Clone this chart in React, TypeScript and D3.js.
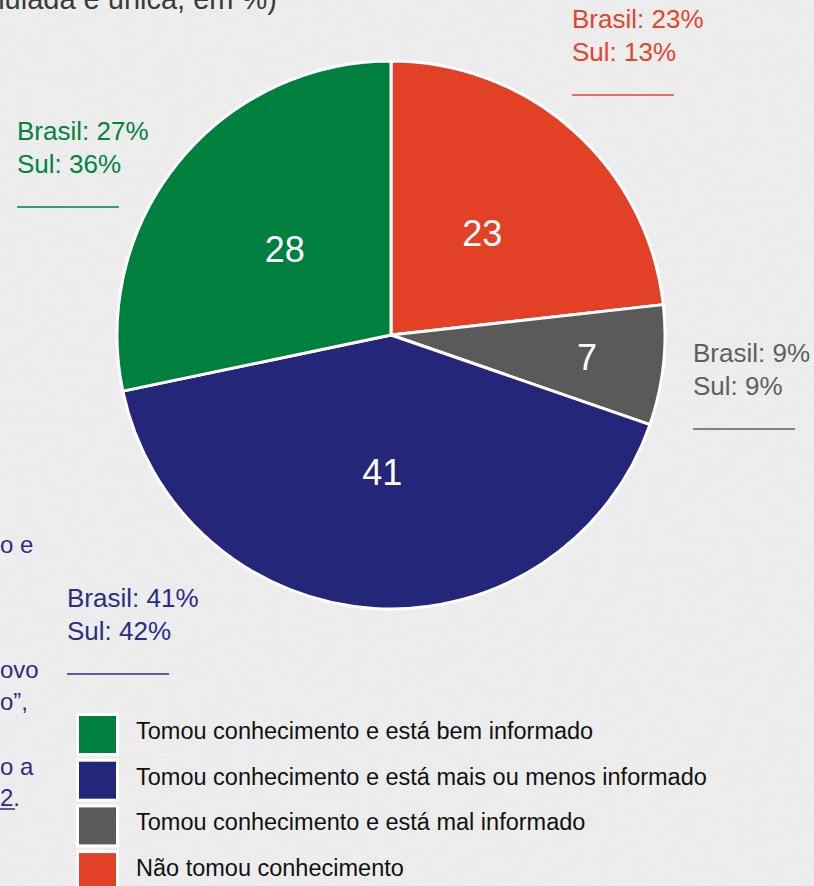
import React, { useEffect, useRef } from 'react';
import * as d3 from 'd3';

// legend order
const categories = [
    'Tomou conhecimento e está bem informado',
    'Tomou conhecimento e está mais ou menos informado',
    'Tomou conhecimento e está mal informado',
    'Não tomou conhecimento'
];
const values = [28, 41, 7, 23];
const brasilValues = [27, 41, 9, 23];
const sulValues = [36, 42, 9, 13];
const colors = ['#00803f', '#24267a', '#5a5a5a', '#e24126'];
const labelColors = ['#00843f', '#2b2d86', '#5f5f5f', '#e2462b'];
// slices are drawn clockwise from 12 o'clock in this order
const pieOrder = [3, 2, 1, 0];

const titleText = '(resposta estimulada e única, em %)';
// fragments of a text block that is cut off at the left edge
const sideText = [
    { text: 'o e', y: 553 },
    { text: 'ovo', y: 678 },
    { text: 'o”,', y: 710 },
    { text: 'o a', y: 775 },
    { text: '2.', y: 806 }
];

interface Slice {
    idx: number;
    value: number;
}

const App: React.FC = () => {
    const svgRef = useRef<SVGSVGElement | null>(null);

    useEffect(() => {
        document.body.style.margin = '0';
        const width = 814;
        const height = 886;
        const cx = 391;
        const cy = 335;
        const radius = 274;
        const font = '"Liberation Sans", Arial, sans-serif';

        const svg = d3.select(svgRef.current)
            .attr('width', width)
            .attr('height', height)
            .style('display', 'block');
        svg.selectAll('*').remove();

        // paper background
        const defs = svg.append('defs');
        const filter = defs.append('filter').attr('id', 'paper')
            .attr('x', 0).attr('y', 0).attr('width', '100%').attr('height', '100%');
        filter.append('feTurbulence')
            .attr('type', 'fractalNoise')
            .attr('baseFrequency', '0.06 0.12')
            .attr('numOctaves', 3)
            .attr('seed', 4);
        filter.append('feColorMatrix')
            .attr('type', 'matrix')
            .attr('values', '0 0 0 0 0.6  0 0 0 0 0.6  0 0 0 0 0.6  0 0 0 0.14 0');

        svg.append('rect').attr('width', width).attr('height', height).attr('fill', '#efefef');
        svg.append('rect').attr('width', width).attr('height', height).attr('filter', 'url(#paper)');

        // title, cut off at the top of the picture
        svg.append('text')
            .attr('x', 277)
            .attr('y', 9)
            .attr('text-anchor', 'end')
            .style('font-family', font)
            .style('font-size', '29px')
            .attr('fill', '#3a3a3a')
            .text(titleText);

        // side text fragments
        svg.append('g').selectAll('text')
            .data(sideText)
            .enter()
            .append('text')
            .attr('x', 0)
            .attr('y', d => d.y)
            .style('font-family', font)
            .style('font-size', '24px')
            .attr('fill', '#2b2d86')
            .text(d => d.text);
        svg.append('line')
            .attr('x1', 0).attr('x2', 15)
            .attr('y1', 809).attr('y2', 809)
            .attr('stroke', '#2b2d86').attr('stroke-width', 1.5);

        // pie
        const slices: Slice[] = pieOrder.map(i => ({ idx: i, value: values[i] }));
        const pie = d3.pie<Slice>().sort(null).value(d => d.value);
        const arcs = pie(slices);
        const arcGen = d3.arc<d3.PieArcDatum<Slice>>().innerRadius(0).outerRadius(radius);

        const g = svg.append('g').attr('transform', `translate(${cx}, ${cy})`);
        g.selectAll('path')
            .data(arcs)
            .enter()
            .append('path')
            .attr('d', d => arcGen(d) || '')
            .attr('fill', d => colors[d.data.idx])
            .attr('stroke', '#ffffff')
            .attr('stroke-width', 3)
            .attr('stroke-linejoin', 'round');

        g.selectAll('text.val')
            .data(arcs)
            .enter()
            .append('text')
            .attr('class', 'val')
            .attr('transform', d => {
                const r = d.endAngle - d.startAngle < 0.5 ? radius * 0.72 : radius * 0.5;
                const a = (d.startAngle + d.endAngle) / 2;
                return `translate(${r * Math.sin(a)}, ${-r * Math.cos(a)})`;
            })
            .attr('text-anchor', 'middle')
            .attr('dy', '0.36em')
            .style('font-family', font)
            .style('font-size', '36px')
            .attr('fill', '#ffffff')
            .text(d => String(d.data.value));

        // Brasil / Sul annotations
        const annPos = [
            { x: 17, y: 140 },
            { x: 67, y: 607 },
            { x: 693, y: 362 },
            { x: 572, y: 28 }
        ];
        const ann = svg.append('g').selectAll('g')
            .data(categories.map((c, i) => i))
            .enter()
            .append('g')
            .attr('transform', i => `translate(${annPos[i].x}, ${annPos[i].y})`);
        ann.append('text')
            .style('font-family', font)
            .style('font-size', '26px')
            .attr('fill', i => labelColors[i])
            .text(i => `Brasil: ${brasilValues[i]}%`);
        ann.append('text')
            .attr('y', 33)
            .style('font-family', font)
            .style('font-size', '26px')
            .attr('fill', i => labelColors[i])
            .text(i => `Sul: ${sulValues[i]}%`);
        ann.append('line')
            .attr('x1', 0).attr('x2', 102)
            .attr('y1', 67).attr('y2', 67)
            .attr('stroke', i => labelColors[i])
            .attr('stroke-width', 1.5);

        // legend
        const legend = svg.append('g').attr('transform', 'translate(76, 713)');
        const rows = legend.selectAll('g')
            .data(categories)
            .enter()
            .append('g')
            .attr('transform', (_, i) => `translate(0, ${i * 45.7})`);
        rows.append('rect')
            .attr('x', 1.5).attr('y', 1.5)
            .attr('width', 40).attr('height', 40)
            .attr('fill', (_, i) => colors[i])
            .attr('stroke', '#ffffff')
            .attr('stroke-width', 3);
        rows.append('text')
            .attr('x', 60)
            .attr('y', 26)
            .style('font-family', font)
            .style('font-size', '23.5px')
            .attr('fill', '#111111')
            .text(d => d);
    }, []);

    return <svg ref={svgRef}></svg>;
};

export default App;
